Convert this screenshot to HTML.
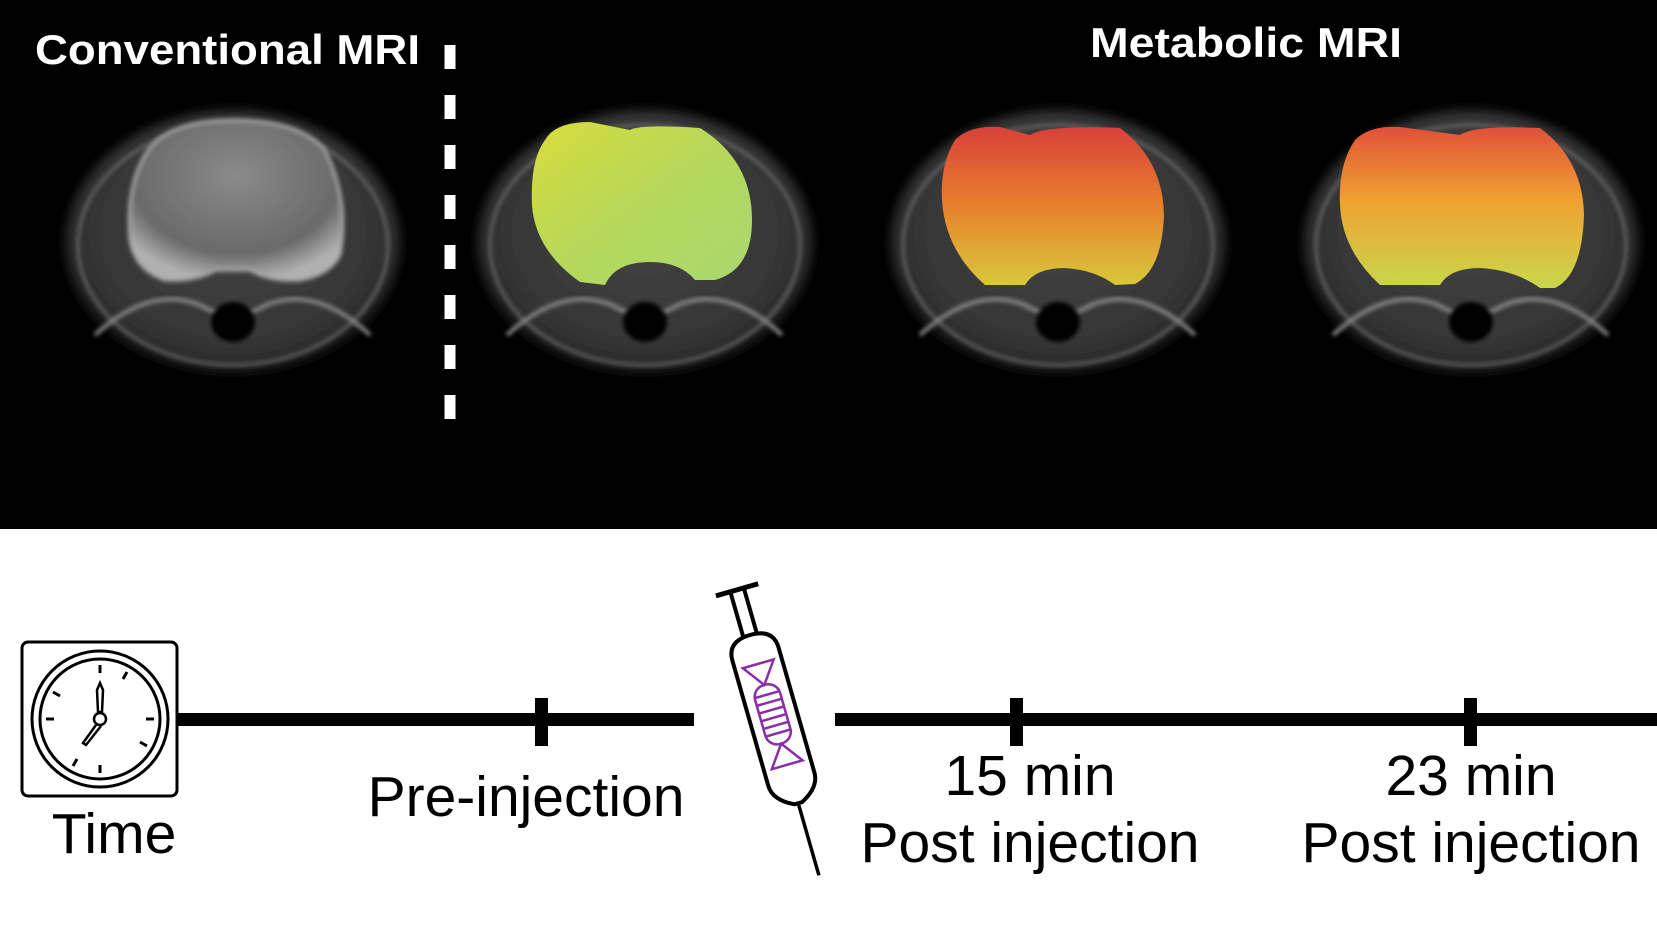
<!DOCTYPE html>
<html><head><meta charset="utf-8"><style>
html,body{margin:0;padding:0;background:#fff;}
#wrap{position:relative;width:1657px;height:947px;overflow:hidden;background:#fff;font-family:"Liberation Sans",sans-serif;}
.t{position:absolute;white-space:nowrap;color:#000;font-size:57px;line-height:1;transform:translateX(-50%);}
</style></head><body>
<div id="wrap">
<svg width="1657" height="947" style="position:absolute;left:0;top:0">
<defs>
 <radialGradient id="head" cx="50%" cy="45%" r="55%">
  <stop offset="0" stop-color="#444"/><stop offset="0.75" stop-color="#363636"/><stop offset="0.9" stop-color="#2a2a2a"/><stop offset="1" stop-color="#000" stop-opacity="0"/>
 </radialGradient>
 <radialGradient id="brainG" cx="50%" cy="35%" r="65%">
  <stop offset="0" stop-color="#8a8a8a"/><stop offset="0.75" stop-color="#6a6a6a"/><stop offset="1" stop-color="#b0b0b0"/>
 </radialGradient>
 <filter id="blur"><feGaussianBlur stdDeviation="5"/></filter>
 <filter id="blur2"><feGaussianBlur stdDeviation="2"/></filter>
 <linearGradient id="ov1" x1="0" y1="0" x2="1" y2="1">
  <stop offset="0" stop-color="#d8dc3a"/><stop offset="0.5" stop-color="#b6d85a"/><stop offset="1" stop-color="#a8d870"/>
 </linearGradient>
 <linearGradient id="ov2" x1="0" y1="0" x2="0" y2="1">
  <stop offset="0" stop-color="#d8403a"/><stop offset="0.5" stop-color="#e8802e"/><stop offset="1" stop-color="#d8c83a"/>
 </linearGradient>
 <linearGradient id="ov3" x1="0" y1="0" x2="0" y2="1">
  <stop offset="0" stop-color="#e0503a"/><stop offset="0.45" stop-color="#f0a030"/><stop offset="1" stop-color="#c8d84a"/>
 </linearGradient>
</defs>
<rect x="0" y="0" width="1657" height="529" fill="#000"/>
<g>
 <g filter="url(#blur)">
  <ellipse cx="233" cy="245" rx="168" ry="135" fill="url(#head)"/>
  <ellipse cx="645" cy="245" rx="168" ry="135" fill="url(#head)"/>
  <ellipse cx="1058" cy="245" rx="168" ry="135" fill="url(#head)"/>
  <ellipse cx="1471" cy="245" rx="168" ry="135" fill="url(#head)"/>
 </g>
 <g filter="url(#blur2)" fill="none" stroke="#666" stroke-width="3">
  <ellipse cx="233" cy="245" rx="155" ry="120"/><ellipse cx="645" cy="245" rx="155" ry="120"/>
  <ellipse cx="1058" cy="245" rx="155" ry="120"/><ellipse cx="1471" cy="245" rx="155" ry="120"/>
 </g>
 <g filter="url(#blur2)" fill="none" stroke="#888" stroke-width="4">
  <path d="M95 335 Q150 285 200 305 Q233 325 266 305 Q316 285 370 335"/>
  <path d="M507 335 Q562 285 612 305 Q645 325 678 305 Q728 285 782 335"/>
  <path d="M920 335 Q975 285 1025 305 Q1058 325 1091 305 Q1141 285 1195 335"/>
  <path d="M1333 335 Q1388 285 1438 305 Q1471 325 1504 305 Q1554 285 1608 335"/>
 </g>
 <g filter="url(#blur2)" fill="#000">
  <ellipse cx="233" cy="322" rx="22" ry="20"/><ellipse cx="645" cy="322" rx="22" ry="20"/>
  <ellipse cx="1058" cy="322" rx="22" ry="20"/><ellipse cx="1471" cy="322" rx="22" ry="20"/>
 </g>
 <path d="M148 150 Q170 120 233 120 Q300 120 325 150 Q350 200 340 255 Q330 275 300 280 Q270 282 250 270 L216 270 Q195 282 165 280 Q135 270 130 240 Q125 185 148 150 Z" fill="url(#brainG)" stroke="#a8a8a8" stroke-width="3" filter="url(#blur2)"/>
</g>
<path d="M545 140 Q555 122 590 122 L630 130 Q640 124 700 128 Q752 160 752 220 Q752 270 715 280 L695 280 Q680 262 650 262 Q615 262 605 285 L580 282 Q535 250 532 205 Q530 160 545 140 Z" fill="url(#ov1)"/>
<path d="M955 140 Q970 125 1000 127 L1030 135 Q1045 125 1120 128 Q1163 160 1164 215 Q1162 270 1135 284 L1115 285 Q1095 270 1065 268 Q1035 268 1025 285 L985 285 Q945 250 942 200 Q940 165 955 140 Z" fill="url(#ov2)"/>
<path d="M1355 140 Q1370 125 1400 127 L1460 135 Q1475 125 1540 128 Q1583 160 1584 215 Q1582 275 1555 288 L1540 288 Q1515 270 1480 268 Q1450 268 1440 285 L1380 285 Q1342 250 1340 205 Q1338 165 1355 140 Z" fill="url(#ov3)"/>
<line x1="450" y1="45" x2="450" y2="420" stroke="#fff" stroke-width="11" stroke-dasharray="24 26"/>
<text x="35" y="64" fill="#fff" font-family="Liberation Sans, sans-serif" font-weight="bold" font-size="42" textLength="385" lengthAdjust="spacingAndGlyphs">Conventional MRI</text>
<text x="1090" y="57" fill="#fff" font-family="Liberation Sans, sans-serif" font-weight="bold" font-size="42" textLength="312" lengthAdjust="spacingAndGlyphs">Metabolic MRI</text>

<g>
 <rect x="178" y="713" width="516" height="13" fill="#000"/>
 <rect x="835" y="713" width="822" height="13" fill="#000"/>
 <rect x="535" y="698" width="13" height="48" fill="#000"/>
 <rect x="1010" y="698" width="13" height="48" fill="#000"/>
 <rect x="1464" y="698" width="13" height="48" fill="#000"/>
</g>
<g fill="none" stroke="#000">
 <rect x="22" y="642" width="155" height="154" rx="6" stroke-width="3"/>
 <circle cx="100" cy="719" r="68" stroke-width="3"/>
 <circle cx="100" cy="719" r="60" stroke-width="3"/>
 <g stroke-width="3">
  <line x1="100" y1="665" x2="100" y2="673"/><line x1="100" y1="765" x2="100" y2="773"/>
  <line x1="46" y1="719" x2="54" y2="719"/><line x1="146" y1="719" x2="154" y2="719"/>
  <line x1="127" y1="672" x2="123" y2="679"/><line x1="73" y1="766" x2="77" y2="759"/>
  <line x1="147" y1="746" x2="140" y2="742"/><line x1="53" y1="692" x2="60" y2="696"/>
 </g>
 <path d="M97 690 L100 683 L103 690 L102 712 L98 712 Z" stroke-width="2.5"/>
 <path d="M96 725 L83 743 L86 745 L101 726" stroke-width="2.5"/>
 <circle cx="100" cy="719" r="6" stroke-width="2.5" fill="#fff"/>
</g>
<g transform="translate(750,635) rotate(-16)" fill="none" stroke="#000" stroke-width="4">
 <line x1="-22" y1="-47" x2="22" y2="-47" stroke-width="5"/>
 <line x1="-7" y1="-45" x2="-7" y2="0"/><line x1="7" y1="-45" x2="7" y2="0"/>
 <path d="M-24 20 Q-24 0 0 0 Q24 0 24 20 L24 150 Q24 165 4 175 L-4 175 Q-24 165 -24 150 Z" fill="#fff"/>
 <line x1="0" y1="175" x2="0" y2="250" stroke-width="3.5"/>
 <g stroke="#8a2ea8" stroke-width="2.5">
  <path d="M-16 30 L16 30 L0 52 Z"/>
  <path d="M-16 135 L16 135 L0 113 Z"/>
  <rect x="-13" y="52" width="26" height="61" rx="12"/>
  <line x1="-13" y1="62" x2="13" y2="62"/><line x1="-13" y1="70" x2="13" y2="70"/>
  <line x1="-13" y1="78" x2="13" y2="78"/><line x1="-13" y1="86" x2="13" y2="86"/>
  <line x1="-13" y1="94" x2="13" y2="94"/><line x1="-13" y1="102" x2="13" y2="102"/>
 </g>
</g>
</svg>
<div class="t" style="left:114px;top:806px;">Time</div>
<div class="t" style="left:526px;top:769px;">Pre-injection</div>
<div class="t" style="left:1030px;top:748px;">15 min</div>
<div class="t" style="left:1030px;top:815px;">Post injection</div>
<div class="t" style="left:1471px;top:748px;">23 min</div>
<div class="t" style="left:1471px;top:815px;">Post injection</div>
</div>
</body></html>
